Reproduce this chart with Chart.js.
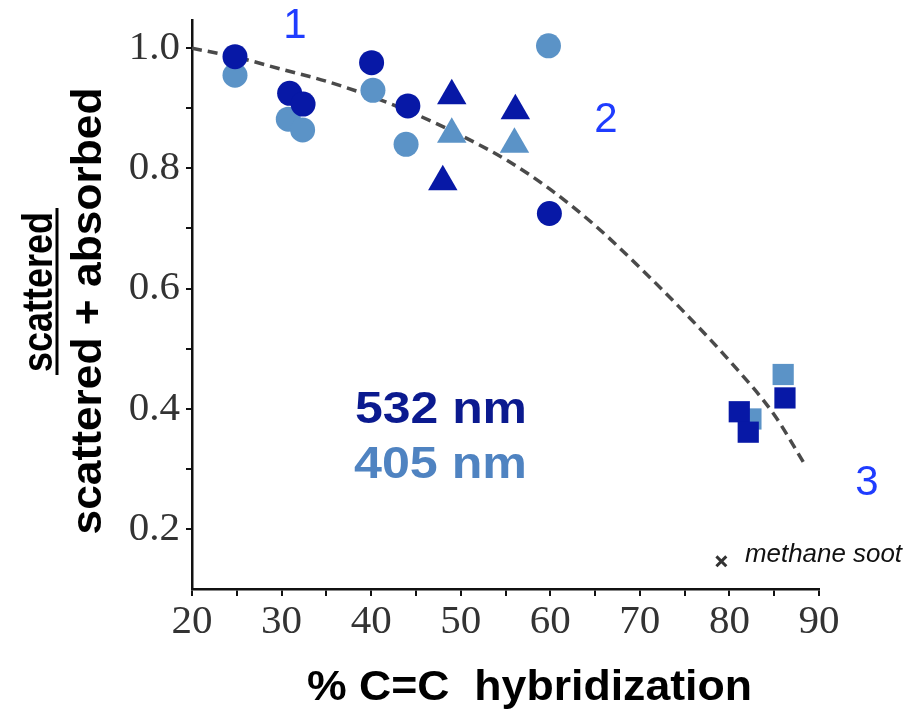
<!DOCTYPE html>
<html>
<head>
<meta charset="utf-8">
<script src="https://cdn.jsdelivr.net/npm/chart.js@4/dist/chart.umd.min.js"></script>
<style>
  html, body { margin: 0; padding: 0; background: #fff; }
  #wrap { width: 917px; height: 710px; position: relative; }
</style>
</head>
<body>
<div id="wrap"><canvas id="chart"></canvas></div>
<script>
// axis ticks
const xTicks = [20, 30, 40, 50, 60, 70, 80, 90];
const xMinorTicks = [25, 35, 45, 55, 65, 75, 85];
const yTicks = [0.2, 0.4, 0.6, 0.8, 1.0];
const yMinorTicks = [0.3, 0.5, 0.7, 0.9];

// 532 nm (dark) and 405 nm (light) measurements, % C=C vs scattering fraction
const circleX532 = [24.8, 30.9, 32.4, 40.05, 44.1, 59.9];
const circleY532 = [0.986, 0.925, 0.907, 0.976, 0.904, 0.725];
const circleX405 = [24.8, 30.75, 32.35, 40.2, 43.9, 59.8];
const circleY405 = [0.955, 0.882, 0.864, 0.930, 0.840, 1.004];

const triX532 = [49.0, 48.0, 56.1];
const triY532 = [0.921, 0.778, 0.896];
const triX405 = [49.0, 56.0];
const triY405 = [0.857, 0.840];

const sqX532 = [81.1, 82.1, 86.2];
const sqY532 = [0.395, 0.361, 0.418];
const sqX405 = [86.0, 82.4];
const sqY405 = [0.457, 0.383];

const sootX = [79.1];
const sootY = [0.146];

// dashed trend curve
const fitX = [20, 25, 30, 35, 40, 45, 50, 55, 60, 65, 70, 75, 80, 85, 88.5];
const fitY = [1.000, 0.985, 0.965, 0.945, 0.920, 0.890, 0.855, 0.815, 0.765, 0.705, 0.635, 0.560, 0.480, 0.390, 0.305];

const dark = '#0718a6';
const light = '#5b93c7';

const pts = (xs, ys) => xs.map((x, i) => ({ x: x, y: ys[i] }));

// draw text squeezed/stretched to a target width
function fitText(ctx, text, x, y, width, align) {
  const w = ctx.measureText(text).width;
  const s = width / w;
  ctx.save();
  ctx.translate(x, y);
  ctx.scale(s, 1);
  ctx.textAlign = align || 'left';
  ctx.fillText(text, 0, 0);
  ctx.restore();
}

const annotations = {
  id: 'annotations',
  afterDraw(chart) {
    const ctx = chart.ctx;
    ctx.save();
    ctx.textBaseline = 'alphabetic';

    // region numbers
    ctx.fillStyle = '#1f3cff';
    ctx.font = '42px "Liberation Sans", Arial, sans-serif';
    ctx.textAlign = 'center';
    ctx.fillText('1', 295, 38);
    ctx.fillText('2', 606, 132);
    ctx.fillText('3', 867, 495);

    // wavelength legend
    ctx.font = 'bold 44px "Liberation Sans", Arial, sans-serif';
    ctx.fillStyle = '#0b1a8f';
    fitText(ctx, '532 nm', 355, 423, 172);
    ctx.fillStyle = '#4f83c1';
    fitText(ctx, '405 nm', 354, 478, 173);

    // soot note
    ctx.fillStyle = '#111';
    ctx.font = 'italic 26px "Liberation Sans", Arial, sans-serif';
    fitText(ctx, 'methane soot', 745, 562, 157);

    // x title
    ctx.fillStyle = '#000';
    ctx.font = 'bold 42px "Liberation Sans", Arial, sans-serif';
    fitText(ctx, '% C=C  hybridization', 307, 700, 445);

    // y title as a fraction
    ctx.save();
    ctx.translate(52, 292);
    ctx.rotate(-Math.PI / 2);
    fitText(ctx, 'scattered', 0, 0, 160, 'center');
    ctx.restore();
    ctx.save();
    ctx.translate(101, 311);
    ctx.rotate(-Math.PI / 2);
    fitText(ctx, 'scattered + absorbed', 0, 0, 447, 'center');
    ctx.restore();
    ctx.fillRect(55.5, 208, 3, 167);

    ctx.restore();
  }
};

const tickFont = { family: '"Liberation Serif", "Times New Roman", serif', size: 41 };

new Chart(document.getElementById('chart'), {
  type: 'scatter',
  data: {
    datasets: [
      { label: '532 circles', data: pts(circleX532, circleY532), pointStyle: 'circle', pointRadius: 12.5,
        backgroundColor: dark, borderColor: dark, borderWidth: 0, order: 1 },
      { label: '532 triangles', data: pts(triX532, triY532), pointStyle: 'triangle', pointRadius: 17,
        backgroundColor: dark, borderColor: dark, borderWidth: 0, order: 1 },
      { label: '532 squares', data: pts(sqX532, sqY532), pointStyle: 'rect', pointRadius: 15,
        backgroundColor: dark, borderColor: dark, borderWidth: 0, order: 1 },
      { label: '405 circles', data: pts(circleX405, circleY405), pointStyle: 'circle', pointRadius: 12.5,
        backgroundColor: light, borderColor: light, borderWidth: 0, order: 2 },
      { label: '405 triangles', data: pts(triX405, triY405), pointStyle: 'triangle', pointRadius: 17,
        backgroundColor: light, borderColor: light, borderWidth: 0, order: 2 },
      { label: '405 squares', data: pts(sqX405, sqY405), pointStyle: 'rect', pointRadius: 15,
        backgroundColor: light, borderColor: light, borderWidth: 0, order: 2 },
      { label: 'methane soot', data: pts(sootX, sootY), pointStyle: 'crossRot', pointRadius: 7,
        borderColor: '#333', borderWidth: 3, order: 0 },
      { type: 'line', label: 'trend', data: pts(fitX, fitY), borderColor: '#4a4a4a', borderWidth: 3.5,
        borderDash: [10, 6], pointRadius: 0, fill: false, cubicInterpolationMode: 'monotone', order: 3 }
    ]
  },
  options: {
    responsive: true,
    maintainAspectRatio: false,
    animation: false,
    layout: { padding: { left: 0, right: 98, top: 20, bottom: 0 } },
    plugins: { legend: { display: false }, tooltip: { enabled: false } },
    scales: {
      x: {
        type: 'linear', min: 20, max: 90,
        afterBuildTicks: s => { s.ticks = xTicks.concat(xMinorTicks).sort((a, b) => a - b).map(v => ({ value: v })); },
        afterFit: s => { s.height = 121; s.paddingLeft = 0; s.paddingRight = 0; },
        ticks: {
          font: tickFont, color: '#333', padding: 2, maxRotation: 0, autoSkip: false,
          callback: v => xTicks.includes(v) ? String(v) : ''
        },
        grid: { drawOnChartArea: false, tickLength: 7, color: '#111', lineWidth: 2 },
        border: { display: true, color: '#111', width: 2.5 }
      },
      y: {
        type: 'linear', min: 0.1, max: 1.047,
        afterBuildTicks: s => { s.ticks = yTicks.concat(yMinorTicks).sort((a, b) => a - b).map(v => ({ value: v })); },
        afterFit: s => { s.width = 192; s.paddingTop = 0; s.paddingBottom = 0; },
        ticks: {
          font: tickFont, color: '#333', padding: 6, autoSkip: false,
          callback: v => yTicks.some(t => Math.abs(t - v) < 1e-6) ? v.toFixed(1) : ''
        },
        grid: { drawOnChartArea: false, tickLength: 6, color: '#111', lineWidth: 2 },
        border: { display: true, color: '#111', width: 2.5 }
      }
    }
  },
  plugins: [annotations]
});
</script>
</body>
</html>
